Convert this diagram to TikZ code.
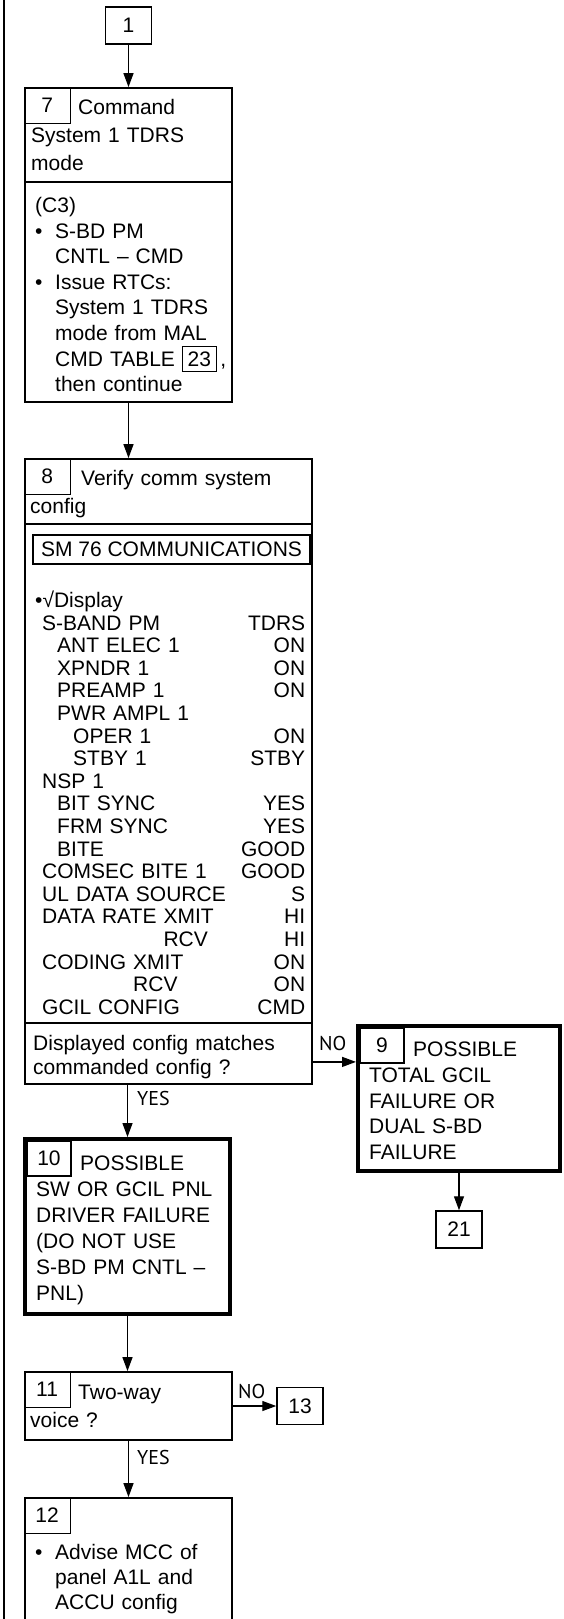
\documentclass[tikz,border=0pt]{standalone}
\usepackage{fontspec}
\setmainfont{Liberation Sans}
\newfontfamily\lblfont{PT Sans}
\usetikzlibrary{arrows.meta,positioning,calc}

\newcommand{\bul}{\makebox[20pt][l]{\textbullet}}
\newcommand{\tblref}[1]{{\setlength{\fboxsep}{4.5pt}\setlength{\fboxrule}{1.2pt}\fbox{#1}}}

\begin{document}
\begin{tikzpicture}[
    x=1pt, y=-1pt,
    font=\fontsize{21}{25.6}\selectfont,
    stepbox/.style={draw, line width=1.8pt, inner sep=0pt},
    failbox/.style={draw, line width=4pt, inner sep=0pt},
    numbox/.style={draw, line width=1.2pt, minimum width=46pt, minimum height=36pt, inner sep=0pt, outer sep=0pt},
    goto/.style={draw, line width=1.5pt, minimum width=46pt, minimum height=37pt, inner sep=0pt},
    txt/.style={align=left, inner sep=0pt, anchor=base west},
    lbl/.style={font=\lblfont\fontsize{20}{24}\selectfont, inner sep=0pt, anchor=base west},
    arrow/.style={-{Triangle[length=14pt,width=10pt]}, line width=1.3pt}
]
\useasboundingbox (0,0) rectangle (563,1619);
\draw[line width=1.5pt] (4,0) -- (4,1619);

% entry
\node[goto] (n1) at (128.5,25.5) {1};

% block 7
\node[stepbox, minimum width=207pt, minimum height=314pt] (s7) at (128.5,245) {};
\node[numbox, anchor=north west] (s7n) at (s7.north west) {7};
\node[txt, text width=195pt, font=\fontsize{21}{28}\selectfont] (s7t) at (31,114) {\hspace*{47pt}Command\\System 1 TDRS\\mode};
\draw[line width=1.8pt] (s7.west |- 0,182) -- (s7.east |- 0,182);
\node[txt, text width=200pt] (s7b) at (35,212.5) {(C3)\\\bul S-BD PM\\\hspace*{20pt}CNTL -- CMD\\\bul Issue RTCs:\\\hspace*{20pt}System 1 TDRS\\\hspace*{20pt}mode from MAL\\\hspace*{20pt}CMD TABLE \tblref{23}\,,\\\hspace*{20pt}then continue};

% block 8
\node[stepbox, minimum width=287pt, minimum height=625pt] (s8) at (168.5,771.5) {};
\node[numbox, anchor=north west] (s8n) at (s8.north west) {8};
\node[txt, text width=270pt, font=\fontsize{21}{28}\selectfont] (s8t) at (30,485.5) {\hspace*{51pt}Verify comm system\\config};
\draw[line width=1.8pt] (s8.west |- 0,524) -- (s8.east |- 0,524);
\node[draw, line width=1.5pt, minimum width=277pt, minimum height=29pt, inner sep=0pt] (sm) at (171.5,549.5) {SM 76 COMMUNICATIONS};
\node[txt, text width=270pt, font=\fontsize{21}{22.6}\selectfont] (s8d) at (35,607.5) {\textbullet√Display\\
\hspace*{7pt}S-BAND PM\hfill TDRS\\
\hspace*{22pt}ANT ELEC 1\hfill ON\\
\hspace*{22pt}XPNDR 1\hfill ON\\
\hspace*{22pt}PREAMP 1\hfill ON\\
\hspace*{22pt}PWR AMPL 1\\
\hspace*{38pt}OPER 1\hfill ON\\
\hspace*{38pt}STBY 1\hfill STBY\\
\hspace*{7pt}NSP 1\\
\hspace*{22pt}BIT SYNC\hfill YES\\
\hspace*{22pt}FRM SYNC\hfill YES\\
\hspace*{22pt}BITE\hfill GOOD\\
\hspace*{7pt}COMSEC BITE 1\hfill GOOD\\
\hspace*{7pt}UL DATA SOURCE\hfill S\\
\hspace*{7pt}DATA RATE XMIT\hfill HI\\
\hspace*{7pt}\phantom{DATA RATE }RCV\hfill HI\\
\hspace*{7pt}CODING XMIT\hfill ON\\
\hspace*{7pt}\phantom{CODING }RCV\hfill ON\\
\hspace*{7pt}GCIL CONFIG\hfill CMD};
\draw[line width=1.8pt] (s8.west |- 0,1023) -- (s8.east |- 0,1023);
\node[txt, text width=270pt, font=\fontsize{21}{24}\selectfont] (s8q) at (33,1050) {Displayed config matches\\commanded config ?};

% block 9
\node[failbox, minimum width=202pt, minimum height=145pt] (s9) at (459,1098.5) {};
\node[numbox, anchor=north west, minimum width=44pt, minimum height=35pt] (s9n) at ($(s9.north west)+(4,4)$) {9};
\node[txt, text width=190pt, font=\fontsize{21}{25.75}\selectfont] (s9t) at (369,1056.5) {\hspace*{44pt}POSSIBLE\\TOTAL GCIL\\FAILURE OR\\DUAL S-BD\\FAILURE};
\node[goto] (n21) at (459,1229.5) {21};

% block 10
\node[failbox, minimum width=205pt, minimum height=175pt] (s10) at (127.5,1226.5) {};
\node[numbox, anchor=north west, minimum width=44pt, minimum height=35pt] (s10n) at ($(s10.north west)+(4,4)$) {10};
\node[txt, text width=190pt, font=\fontsize{21}{26}\selectfont] (s10t) at (36,1170.5) {\hspace*{44pt}POSSIBLE\\SW OR GCIL PNL\\DRIVER FAILURE\\(DO NOT USE\\S-BD PM CNTL --\\PNL)};

% block 11
\node[stepbox, minimum width=207pt, minimum height=68pt] (s11) at (128.5,1406) {};
\node[numbox, anchor=north west] (s11n) at (s11.north west) {11};
\node[txt, text width=195pt, font=\fontsize{21}{28}\selectfont] (s11t) at (30,1399.5) {\hspace*{48pt}Two-way\\voice ?};
\node[goto] (n13) at (300,1406) {13};

% block 12, cut by the page edge
\begin{scope}
\clip (0,0) rectangle (563,1619);
\node[stepbox, minimum width=207pt, minimum height=141pt] (s12) at (128.5,1568.5) {};
\end{scope}
\node[numbox, anchor=north west] (s12n) at (s12.north west) {12};
\node[txt, text width=195pt, font=\fontsize{21}{25}\selectfont] (s12t) at (35,1559.5) {\bul Advise MCC of\\\hspace*{20pt}panel A1L and\\\hspace*{20pt}ACCU config};

% connectors
\coordinate (q8) at ($(s8.south east)+(0,-23)$);
\draw[arrow] (n1) -- (s7);
\draw[arrow] (s7.south) -- (s7.south |- s8.north);
\draw[arrow] (q8) -- (q8 -| s9.west);
\node[lbl] (no8) at (319,1050) {NO};
\draw[arrow] (s9) -- (n21);
\draw[arrow] (s10.north |- s8.south) -- (s10.north);
\node[lbl] (yes8) at (137,1105) {YES};
\draw[arrow] (s10.south) -- (s10.south |- s11.north);
\draw[arrow] (s11) -- (n13);
\node[lbl] (no11) at (238,1398.5) {NO};
\draw[arrow] (s11) -- (s12);
\node[lbl] (yes11) at (137,1464) {YES};
\end{tikzpicture}
\end{document}
